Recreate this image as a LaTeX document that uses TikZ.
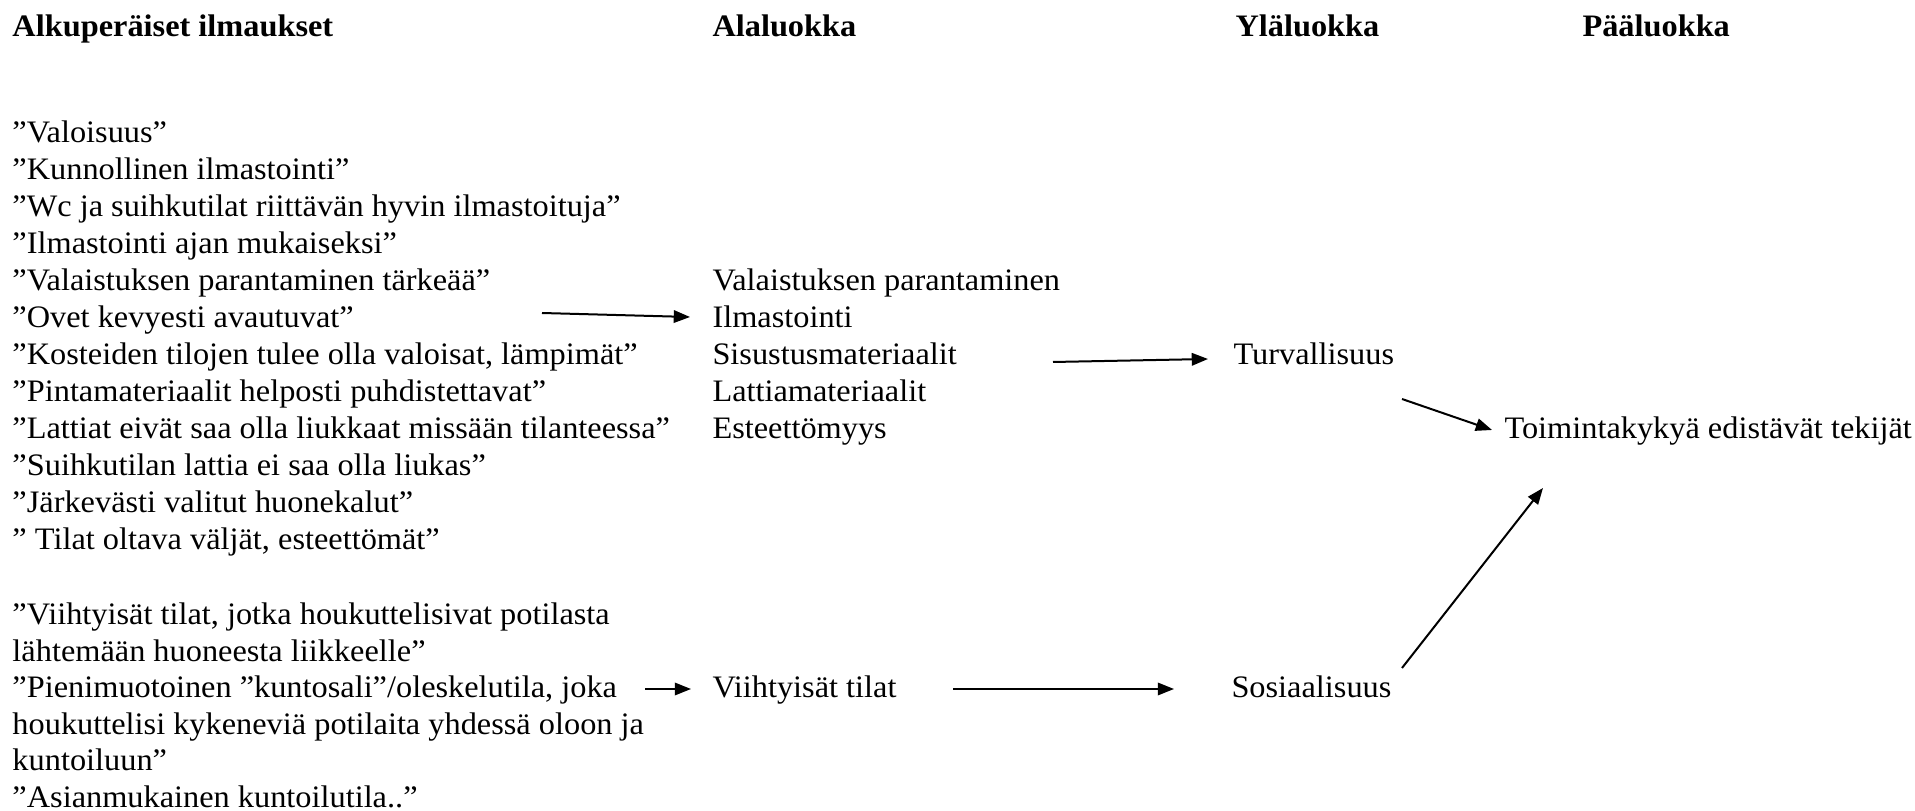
\documentclass[tikz,border=0pt]{standalone}
\usepackage{fontspec}
\setmainfont[FakeStretch=1.035]{Liberation Serif}
\usetikzlibrary{arrows.meta}
\begin{document}
\begin{tikzpicture}[x=0.4pt,y=-0.4pt,
  txt/.style={anchor=base west,inner sep=0pt,font=\fontsize{12.5}{14}\selectfont},
  hd/.style={anchor=base west,inner sep=0pt,font=\fontsize{12.5}{14}\selectfont\bfseries},
  arr/.style={-{Triangle[length=6.5pt,width=5pt]},line width=0.8pt}]
\useasboundingbox (0,0) rectangle (1915,811);
% headers
\node[hd] (h1) at (12,37) {Alkuperäiset ilmaukset};
\node[hd] (h2) at (712,37) {Alaluokka};
\node[hd] (h3) at (1235,37) {Yläluokka};
\node[hd] (h4) at (1582,37) {Pääluokka};
% original expressions, block 1
\node[txt] (q1) at (12,143) {”Valoisuus”};
\node[txt] (q2) at (12,180) {”Kunnollinen ilmastointi”};
\node[txt] (q3) at (12,217) {”Wc ja suihkutilat riittävän hyvin ilmastoituja”};
\node[txt] (q4) at (12,254) {”Ilmastointi ajan mukaiseksi”};
\node[txt] (q5) at (12,291) {”Valaistuksen parantaminen tärkeää”};
\node[txt] (q6) at (12,328) {”Ovet kevyesti avautuvat”};
\node[txt] (q7) at (12,365) {”Kosteiden tilojen tulee olla valoisat, lämpimät”};
\node[txt] (q8) at (12,402) {”Pintamateriaalit helposti puhdistettavat”};
\node[txt] (q9) at (12,439) {”Lattiat eivät saa olla liukkaat missään tilanteessa”};
\node[txt] (q10) at (12,476) {”Suihkutilan lattia ei saa olla liukas”};
\node[txt] (q11) at (12,513) {”Järkevästi valitut huonekalut”};
\node[txt] (q12) at (12,550) {” Tilat oltava väljät, esteettömät”};
% block 2
\node[txt] (r1) at (12,625) {”Viihtyisät tilat, jotka houkuttelisivat potilasta};
\node[txt] (r2) at (12,661.5) {lähtemään huoneesta liikkeelle”};
\node[txt] (r3) at (12,698) {”Pienimuotoinen ”kuntosali”/oleskelutila, joka};
\node[txt] (r4) at (12,734.5) {houkuttelisi kykeneviä potilaita yhdessä oloon ja};
\node[txt] (r5) at (12,771) {kuntoiluun”};
\node[txt] (r6) at (12,807.5) {”Asianmukainen kuntoilutila..”};
% subcategories
\node[txt] (s1) at (712,291) {Valaistuksen parantaminen};
\node[txt] (s2) at (712,328) {Ilmastointi};
\node[txt] (s3) at (712,365) {Sisustusmateriaalit};
\node[txt] (s4) at (712,402) {Lattiamateriaalit};
\node[txt] (s5) at (712,439) {Esteettömyys};
\node[txt] (s6) at (712,698) {Viihtyisät tilat};
% upper categories
\node[txt] (u1) at (1233,365) {Turvallisuus};
\node[txt] (u2) at (1231,698) {Sosiaalisuus};
% main category
\node[txt] (m1) at (1504,439) {Toimintakykyä edistävät tekijät};
% arrow end points
\coordinate (a1s) at (542,313);
\coordinate (a1e) at (690,317);
\coordinate (a2s) at (1053,362);
\coordinate (a2e) at (1208,359);
\coordinate (a3s) at (1402,399);
\coordinate (a3e) at (1492,430);
\coordinate (a4s) at (1402,668);
\coordinate (a4e) at (1543,488);
\coordinate (a5s) at (645,689);
\coordinate (a5e) at (691,689);
\coordinate (a6s) at (953,689);
\coordinate (a6e) at (1174,689);
\draw[arr] (a1s) -- (a1e);
\draw[arr] (a2s) -- (a2e);
\draw[arr] (a3s) -- (a3e);
\draw[arr] (a4s) -- (a4e);
\draw[arr] (a5s) -- (a5e);
\draw[arr] (a6s) -- (a6e);
\end{tikzpicture}
\end{document}
